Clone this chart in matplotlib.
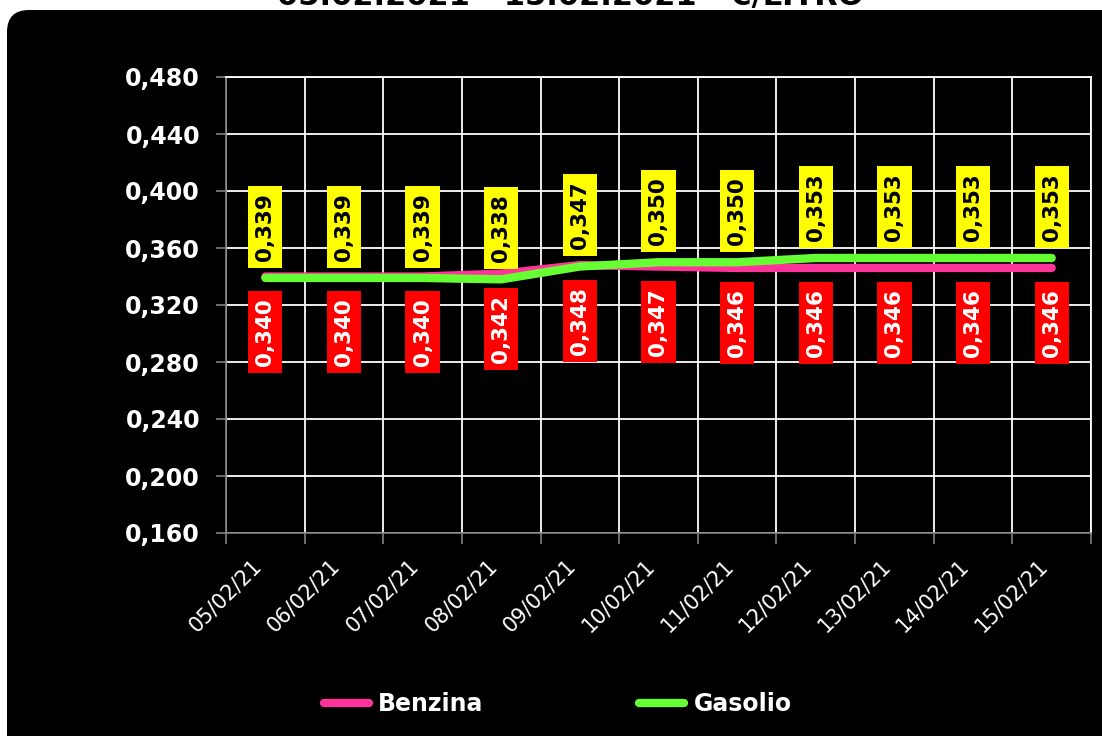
import matplotlib
matplotlib.use("Agg")
import matplotlib.pyplot as plt
from matplotlib.patches import FancyBboxPatch
from matplotlib.lines import Line2D
import numpy as np

dates = ["05/02/21", "06/02/21", "07/02/21", "08/02/21", "09/02/21", "10/02/21",
         "11/02/21", "12/02/21", "13/02/21", "14/02/21", "15/02/21"]
benzina = [0.340, 0.340, 0.340, 0.342, 0.348, 0.347, 0.346, 0.346, 0.346, 0.346, 0.346]
gasolio = [0.339, 0.339, 0.339, 0.338, 0.347, 0.350, 0.350, 0.353, 0.353, 0.353, 0.353]
yticks = [0.160, 0.200, 0.240, 0.280, 0.320, 0.360, 0.400, 0.440, 0.480]
title = "05.02.2021 - 15.02.2021 - €/LITRO"

PINK = "#FF3399"
GREEN = "#66FF33"
W, H = 1102, 736

plt.rcParams['font.family'] = ['DejaVu Sans']

fig = plt.figure(figsize=(W / 100, H / 100), dpi=100, facecolor="white")

# background rounded black panel (pixel coordinates)
bg = fig.add_axes([0, 0, 1, 1], zorder=0)
bg.set_xlim(0, W)
bg.set_ylim(H, 0)
bg.axis("off")
bg.add_patch(FancyBboxPatch((7, 10), 1130, 780, boxstyle="round,pad=0,rounding_size=22",
                            fc="black", ec="none"))
fig.text(570 / W, 1 - 5 / H, title, ha="center", va="baseline", fontsize=22,
         fontweight="bold", color="black", zorder=2)

left, right, top, bottom = 226, 1091, 77, 533
ax = fig.add_axes([left / W, 1 - bottom / H, (right - left) / W, (bottom - top) / H], zorder=1)
ax.set_facecolor("black")

x = np.arange(len(dates))
ax.set_xlim(-0.5, len(dates) - 0.5)
ax.set_ylim(yticks[0], yticks[-1])

# category boundaries as major ticks (grid), centers as minor ticks (labels)
ax.set_xticks(np.arange(-0.5, len(dates), 1.0))
ax.set_xticklabels([])
ax.set_xticks(x, minor=True)
ax.set_xticklabels(dates, minor=True, rotation=45, ha="right", va="top",
                   fontsize=15, color="white")
ax.tick_params(axis="x", which="major", length=8, width=1.2, color="#808080", direction="out")
ax.tick_params(axis="x", which="minor", length=0, pad=16)

ax.set_yticks(yticks)
ax.set_yticklabels([f"{v:.3f}".replace(".", ",") for v in yticks], fontsize=17,
                   fontweight="bold", color="white")
ax.tick_params(axis="y", length=7.2, width=1.2, color="#808080", pad=11.5)

ax.grid(True, which="major", color="white", lw=1.3)
ax.set_axisbelow(True)
for s in ["left", "bottom"]:
    ax.spines[s].set_color("#808080")
    ax.spines[s].set_linewidth(1.2)
for s in ["top", "right"]:
    ax.spines[s].set_color("white")
    ax.spines[s].set_linewidth(1.3)

ax.plot(x, benzina, color=PINK, lw=6, solid_capstyle="round", solid_joinstyle="round", zorder=3)
ax.plot(x, gasolio, color=GREEN, lw=6, solid_capstyle="round", solid_joinstyle="round", zorder=4)

for i in range(len(dates)):
    g = gasolio[i]
    b = benzina[i]
    ax.annotate(f"{g:.3f}".replace(".", ","), (x[i], g), xytext=(0, 12.5),
                textcoords="offset points", rotation=90, ha="center", va="bottom",
                fontsize=15.5, fontweight="bold", color="black",
                bbox=dict(boxstyle="square,pad=0.33", fc="#FFFF00", ec="none"), zorder=5)
    ax.annotate(f"{b:.3f}".replace(".", ","), (x[i], b), xytext=(0, -15.5),
                textcoords="offset points", rotation=90, ha="center", va="top",
                fontsize=15.5, fontweight="bold", color="white",
                bbox=dict(boxstyle="square,pad=0.33", fc="#FF0000", ec="none"), zorder=5)

handles = [Line2D([], [], color=PINK, lw=6, solid_capstyle="round"),
           Line2D([], [], color=GREEN, lw=6, solid_capstyle="round")]
leg = fig.legend(handles, ["Benzina", "Gasolio"], loc="center", bbox_to_anchor=(0.506, 0.0435),
                 ncol=2, frameon=False, prop={"size": 17, "weight": "bold"},
                 labelcolor="white", handlelength=1.9, handletextpad=0.4, columnspacing=6.6)

fig.savefig("out.png", dpi=100, facecolor="white")
